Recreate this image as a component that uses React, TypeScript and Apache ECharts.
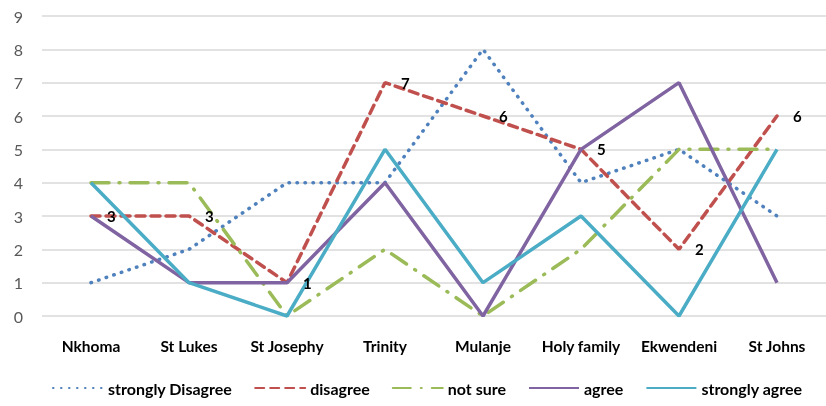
import React, { useEffect, useRef } from "react";
import * as echarts from "echarts";

const categories = ["Nkhoma", "St Lukes", "St Josephy", "Trinity", "Mulanje", "Holy family", "Ekwendeni", "St Johns"];
const stronglyDisagree = [1, 2, 4, 4, 8, 4, 5, 3];
const disagree = [3, 3, 1, 7, 6, 5, 2, 6];
const notSure = [4, 4, 0, 2, 0, 2, 5, 5];
const agree = [3, 1, 1, 4, 0, 5, 7, 1];
const stronglyAgree = [4, 1, 0, 5, 1, 3, 0, 5];
const yTicks = [0, 1, 2, 3, 4, 5, 6, 7, 8, 9];

const FONT = "Lato, 'Open Sans', sans-serif";

export default function App() {
  const ref = useRef<HTMLDivElement>(null);
  useEffect(() => {
    if (!ref.current) return;
    const chart = echarts.init(ref.current, undefined, { renderer: "svg" });
    const mk = (name: string, data: number[], color: string, width: number, type: any, labels = false) => ({
      name,
      type: "line",
      data,
      symbol: "circle",
      symbolSize: 0.01,
      showSymbol: true,
      lineStyle: { color, width, type, cap: type === "solid" ? "butt" : "round" },
      itemStyle: { color },
      label: labels
        ? { show: true, position: "right", distance: 16, color: "#000", fontWeight: "bold", fontSize: 15, fontFamily: FONT }
        : { show: false },
      z: 2,
    });
    chart.setOption({
      animation: false,
      textStyle: { fontFamily: FONT },
      grid: { left: 42, right: -8, top: 16, bottom: 90 },
      xAxis: {
        type: "category",
        data: categories,
        boundaryGap: true,
        axisLine: { show: false },
        axisTick: { show: false },
        axisLabel: { interval: 0, color: "#000", fontWeight: "bold", fontSize: 15.5, fontFamily: FONT, margin: 22 },
      },
      yAxis: {
        type: "value",
        min: 0,
        max: yTicks[yTicks.length - 1],
        interval: 1,
        axisLine: { show: false },
        axisTick: { show: false },
        axisLabel: { color: "#595959", fontSize: 16, fontFamily: FONT, margin: 19 },
        splitLine: { lineStyle: { color: "#d9d9d9", width: 1.5 } },
      },
      legend: {
        top: 380,
        left: 52,
        padding: 0,
        itemWidth: 50,
        itemHeight: 14,
        itemGap: 22,
        itemStyle: { opacity: 0 },
        textStyle: { color: "#000", fontWeight: "bold", fontSize: 16, fontFamily: FONT },
        data: ["strongly Disagree", "disagree", "not sure", "agree", "strongly agree"],
      },
      series: [
        mk("strongly Disagree", stronglyDisagree, "#4F81BD", 3.5, [0.5, 7.5]),
        mk("disagree", disagree, "#C0504D", 3.5, [9, 6], true),
        mk("not sure", notSure, "#9BBB59", 3.5, [18, 10, 1, 10]),
        mk("agree", agree, "#8064A2", 3.5, "solid"),
        mk("strongly agree", stronglyAgree, "#4BACC6", 3.5, "solid"),
      ],
    });
    return () => chart.dispose();
  }, []);
  return <div ref={ref} style={{ position: "fixed", left: 0, top: 0, width: 826, height: 406 }} />;
}
